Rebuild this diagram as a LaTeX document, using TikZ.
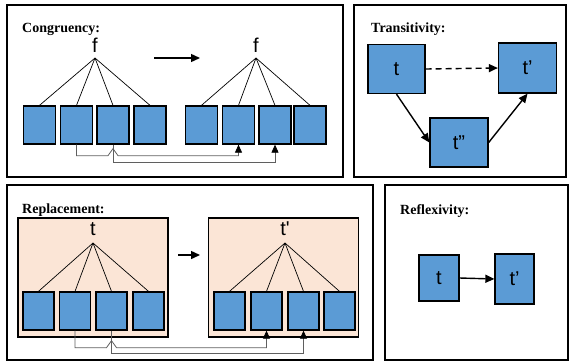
\documentclass[tikz,border=0pt]{standalone}
\usepackage{fontspec}
\setmainfont{Liberation Serif}
\newfontfamily\labelfont{Liberation Sans}
\usetikzlibrary{arrows.meta,calc}
\definecolor{cellblue}{RGB}{91,155,213}
\definecolor{peachbg}{RGB}{251,229,214}
\definecolor{wiregray}{RGB}{95,95,95}
\tikzset{
  panel/.style={draw,line width=1.8pt},
  holder/.style={shape=rectangle,draw,fill=peachbg,line width=1.2pt,minimum width=150pt,minimum height=119pt},
  cell/.style={shape=rectangle,draw,fill=cellblue,line width=1.3pt,inner sep=0pt,minimum width=32pt,minimum height=38pt},
  term/.style={shape=rectangle,draw,fill=cellblue,line width=1.3pt,inner sep=0pt,font=\labelfont\fontsize{20}{22}\selectfont},
  caption/.style={anchor=base west,inner sep=0pt,font=\bfseries\fontsize{14}{16}\selectfont},
  symb/.style={inner sep=0pt,font=\labelfont\fontsize{20}{22}\selectfont},
  branch/.style={line width=0.7pt},
  wire/.style={draw=wiregray,line width=0.8pt,-{Triangle[length=8pt,width=7pt,color=black]}},
  goes/.style={line width=1.4pt,-{Triangle[length=9pt,width=8pt]}}
}
\begin{document}
\begin{tikzpicture}[x=1pt,y=-1pt]
    \useasboundingbox (0,0) rectangle (569,362);
    % panels
    \draw[panel] (7,5) rectangle (343,177);
    \draw[panel] (354,5) rectangle (566,177);
    \draw[panel] (7,185) rectangle (373,360);
    \draw[panel] (385,185) rectangle (568,360);
    \node[caption] (congtitle) at (22,32) {Congruency:};
    \node[caption] (transtitle) at (371,32) {Transitivity:};
    \node[caption] (repltitle) at (22,213) {Replacement:};
    \node[caption] (refltitle) at (400,214) {Reflexivity:};

    % congruency
    \node[symb] (fl) at (95,45) {f};
    \node[symb] (fr) at (256,45) {f};
    \coordinate (al) at (95,58);
    \coordinate (ar) at (256,58);
    \node[cell] (cl1) at (39.5,125) {};
    \node[cell] (cl2) at (76.5,125) {};
    \node[cell] (cl3) at (113,125) {};
    \node[cell] (cl4) at (150,125) {};
    \node[cell] (cr1) at (201.5,125) {};
    \node[cell] (cr2) at (238.5,125) {};
    \node[cell] (cr3) at (275,125) {};
    \node[cell] (cr4) at (310,125) {};
    \draw[branch] (al) -- (cl1.north);
    \draw[branch] (al) -- (cl2.north);
    \draw[branch] (al) -- (cl3.north);
    \draw[branch] (al) -- (cl4.north);
    \draw[branch] (ar) -- (cr1.north);
    \draw[branch] (ar) -- (cr2.north);
    \draw[branch] (ar) -- (cr3.north);
    \draw[branch] (ar) -- (cr4.north);
    \coordinate (cfrom) at (154,58);
    \coordinate (cto) at (200,58);
    \draw[goes] (cfrom) -- (cto);
    \draw[wire] (cl2.south) |- ($(cl3.south)+(-5,11)$) -- ($(cl3.south)+(0,4)$) -- ($(cl3.south)+(5,11)$) -| (cr2.south);
    \draw[wire] (cl3.south) -- ++(0,18) -| (cr3.south);

    % transitivity
    \node[term,minimum width=57pt,minimum height=49pt] (t) at (396.5,69) {t};
    \node[term,minimum width=58pt,minimum height=50pt] (tp) at (527.5,68) {t’};
    \node[term,minimum width=58pt,minimum height=49pt] (tpp) at (459,142.5) {t”};
    \draw[goes,dash pattern=on 6pt off 4pt] (t.east) -- (tp.west);
    \draw[goes] (t.south) -- (tpp.west);
    \draw[goes] (tpp.east) -- (tp.south);

    % replacement
    \node[holder] (hl) at (93,277.5) {};
    \node[holder] (hr) at (283.5,277.5) {};
    \node[symb] (tl) at (93,229) {t};
    \node[symb] (tr) at (285,229) {t\textquotesingle};
    \coordinate (bl) at (93,243);
    \coordinate (br) at (285,243);
    \node[cell,minimum width=31pt] (rl1) at (38.5,311) {};
    \node[cell,minimum width=31pt] (rl2) at (75,311) {};
    \node[cell,minimum width=31pt] (rl3) at (111.5,311) {};
    \node[cell,minimum width=31pt] (rl4) at (148.5,311) {};
    \node[cell,minimum width=31pt] (rr1) at (229.5,311) {};
    \node[cell,minimum width=31pt] (rr2) at (266.5,311) {};
    \node[cell,minimum width=31pt] (rr3) at (303.5,311) {};
    \node[cell,minimum width=31pt] (rr4) at (339.5,311) {};
    \draw[branch] (bl) -- (rl1.north);
    \draw[branch] (bl) -- (rl2.north);
    \draw[branch] (bl) -- (rl3.north);
    \draw[branch] (bl) -- (rl4.north);
    \draw[branch] (br) -- (rr1.north);
    \draw[branch] (br) -- (rr2.north);
    \draw[branch] (br) -- (rr3.north);
    \draw[branch] (br) -- (rr4.north);
    \coordinate (rfrom) at (178,255);
    \coordinate (rto) at (200,255);
    \draw[goes] (rfrom) -- (rto);
    \draw[wire] (rl2.south) |- ($(rl3.south)+(-5,17)$) -- ($(rl3.south)+(0,10)$) -- ($(rl3.south)+(5,17)$) -| (rr2.south);
    \draw[wire] (rl3.south) -- ++(0,23) -| (rr3.south);

    % reflexivity
    \node[term,minimum width=40pt,minimum height=46pt] (s) at (439,278) {t};
    \node[term,minimum width=39pt,minimum height=50pt] (sp) at (514.5,279) {t’};
    \draw[goes] (s.east) -- (sp.west);
\end{tikzpicture}
\end{document}
